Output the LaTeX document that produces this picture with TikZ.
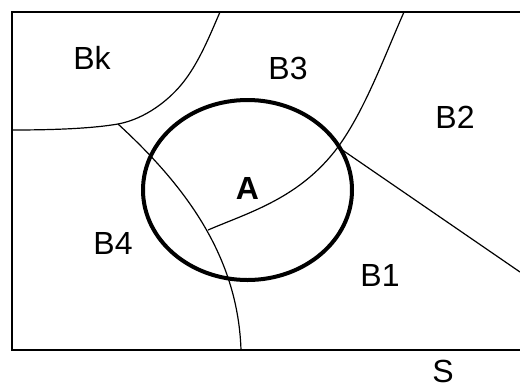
\documentclass[tikz,border=0pt]{standalone}
\usepackage{fontspec}
\setmainfont{Liberation Sans}
\usepackage{tikz}

\begin{document}
\begin{tikzpicture}[
  x=0.5pt, y=-0.5pt,
  border/.style={line width=1pt},
  boundary/.style={line width=0.6pt},
  setA/.style={line width=2pt},
  region/.style={font=\fontsize{16}{19}\selectfont, inner sep=0pt}
]
  \useasboundingbox (0,0) rectangle (520,387);

  % points de jonction des frontieres
  \coordinate (junctionL) at (118,124);
  \coordinate (junctionA) at (208,230);
  \coordinate (junctionR) at (338,147);

  % ensemble S (coupe a droite)
  \draw[border] (520,12) -- (12,12) -- (12,350) -- (520,350);

  % frontiere de Bk
  \draw[boundary] (12,130) .. controls (60,130) and (95,128) .. (junctionL)
    .. controls (145,119) and (170,100) .. (185,80)
    .. controls (200,60) and (210,35) .. (220,12);
  % frontiere B4 / B1
  \draw[boundary] (junctionL) .. controls (190,190) and (238,260) .. (241,350);
  % frontiere B3 / B2
  \draw[boundary] (404,12) .. controls (385,55) and (365,110) .. (junctionR)
    .. controls (300,198) and (250,212) .. (junctionA);
  % frontiere B2 / B1
  \draw[boundary] (junctionR) -- (520,272);

  % evenement A
  \draw[setA] (247.5,190) ellipse [x radius=104.5, y radius=90];

  % etiquettes
  \node[region] (labelBk) at (92,58) {Bk};
  \node[region] (labelB3) at (288,68) {B3};
  \node[region] (labelB2) at (455,117) {B2};
  \node[region, font=\fontsize{16}{19}\selectfont\bfseries] (labelA) at (247.5,188) {A};
  \node[region] (labelB4) at (113,243) {B4};
  \node[region] (labelB1) at (380,275) {B1};
  \node[region] (labelS) at (443,371) {S};

\end{tikzpicture}
\end{document}
